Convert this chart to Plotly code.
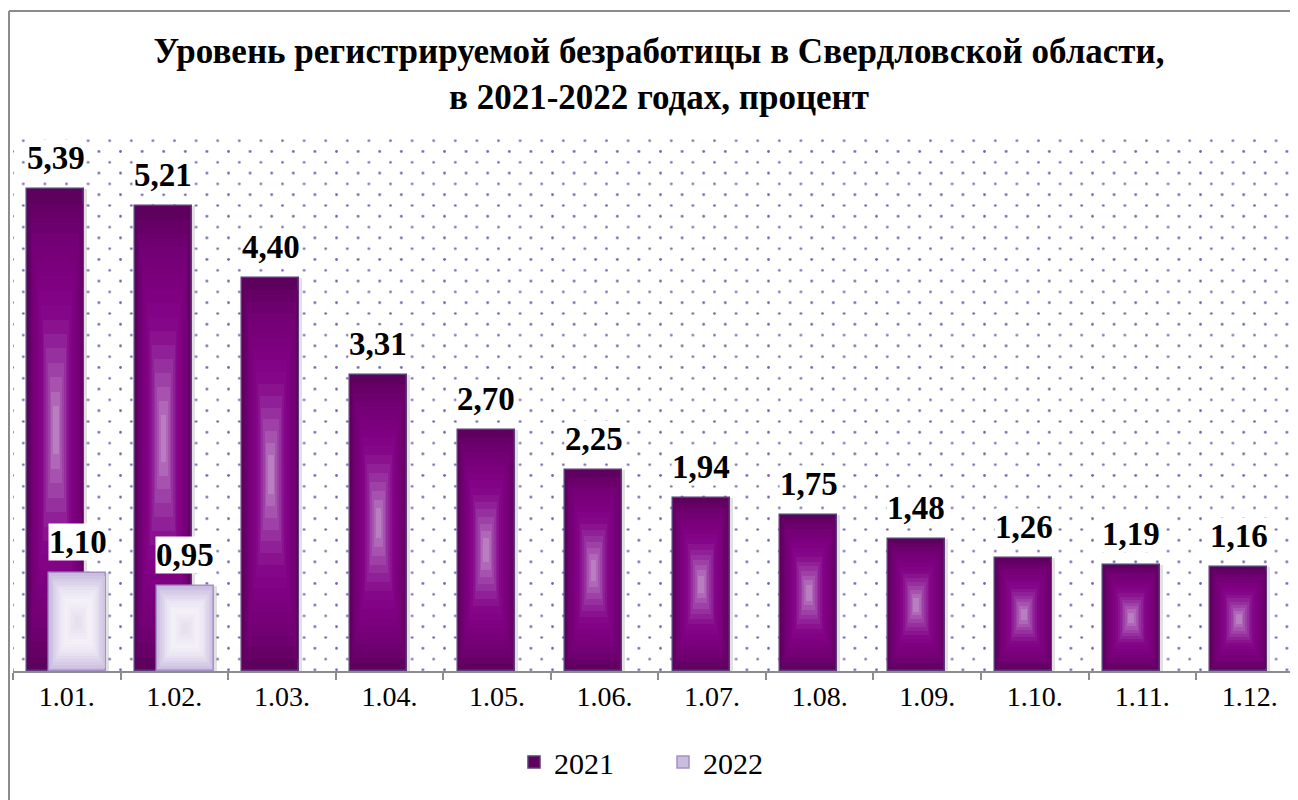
import base64
import plotly.graph_objects as go

# ---- data ----
months = ["1.01.", "1.02.", "1.03.", "1.04.", "1.05.", "1.06.",
          "1.07.", "1.08.", "1.09.", "1.10.", "1.11.", "1.12."]
rate_2021 = [5.39, 5.21, 4.40, 3.31, 2.70, 2.25, 1.94, 1.75, 1.48, 1.26, 1.19, 1.16]
rate_2022 = [1.10, 0.95]
series_names = ["2021", "2022"]
title_text = ("Уровень регистрируемой безработицы в Свердловской области,<br>"
              "в 2021-2022 годах, процент")

# ---- style / geometry (figure is drawn inside the page's 8px body margin) ----
FW, FH = 1290, 792
ML, MT, MB = 5, 127, 129
PW, PH = FW - ML, FH - MT - MB       # plot area size in px
CAT = 107.55                          # px per category
W = 0.53                              # bar width (category units)
OFF = 0.102                           # bar centre offset from category centre
FONT = "Liberation Serif, Times New Roman, serif"

stops_2021 = [(1.0, "#5e005e"), (0.84, "#720074"), (0.62, "#800082"),
              (0.5, "#86088a"), (0.36, "#942a9c"), (0.22, "#a652ae"),
              (0.1, "#b87ec0"), (0.0, "#c6a0ce")]
stops_2022 = [(1.0, "#cabddf"), (0.82, "#dcd3eb"), (0.62, "#ece8f4"),
              (0.45, "#f4f1f8"), (0.25, "#ede8f3"), (0.0, "#e2dbec")]


def hex2rgb(h):
    h = h.lstrip("#")
    return tuple(int(h[i:i + 2], 16) for i in (0, 2, 4))


def colour_at(stops, s):
    for (s0, c0), (s1, c1) in zip(stops, stops[1:]):
        if s1 <= s <= s0:
            t = (s0 - s) / (s0 - s1) if s0 != s1 else 0
            a, b = hex2rgb(c0), hex2rgb(c1)
            r = [round(a[i] + (b[i] - a[i]) * t) for i in range(3)]
            return "rgb(%d,%d,%d)" % tuple(r)
    return "rgb(%d,%d,%d)" % hex2rgb(stops[-1][1])


levels = [1.0 - i * 0.06 for i in range(16)]  # 1.0 .. 0.1

fig = go.Figure()


def add_series(values, centre, stops, outline, name):
    xs = months[:len(values)]
    # soft shadow
    fig.add_trace(go.Bar(
        x=xs, y=values, width=W, offset=centre - W / 2 + 0.028,
        marker=dict(color="rgba(90,90,90,0.18)", line=dict(width=0)),
        showlegend=False, hoverinfo="skip"))
    for k, s in enumerate(levels):
        fig.add_trace(go.Bar(
            x=xs,
            y=[v * s for v in values],
            base=[v * (1 - s) / 2 for v in values],
            width=W * s,
            offset=centre - W * s / 2,
            marker=dict(color=colour_at(stops, s),
                        line=dict(width=1.5 if k == 0 else 0, color=outline)),
            name=name, legendgroup=name, showlegend=(k == 0),
            hoverinfo="skip"))


add_series(rate_2021, -OFF, stops_2021, "#5a3c78", series_names[0])
add_series(rate_2022, OFF, stops_2022, "#a690c6", series_names[1])


def fmt(v):
    return ("%.2f" % v).replace(".", ",")


annotations = []
for vals, shift in ((rate_2021, -OFF), (rate_2022, OFF)):
    for i, v in enumerate(vals):
        annotations.append(dict(
            x=months[i], y=v, xref="x", yref="y", text="<b>%s</b>" % fmt(v),
            showarrow=False, yanchor="bottom", xanchor="center",
            xshift=shift * CAT, yshift=12,
            font=dict(family=FONT, size=33, color="#000000"),
            bgcolor="#ffffff", borderpad=0))

# dotted background pattern
svg = ("<svg xmlns='http://www.w3.org/2000/svg' width='%d' height='%d' viewBox='0 0 %d %d'>"
       "<defs><pattern id='p' x='4.9' y='0.3' width='21.6' height='21.6' patternUnits='userSpaceOnUse'>"
       "<circle cx='5.4' cy='5.4' r='1.35' fill='#7566a6'/>"
       "<circle cx='16.2' cy='16.2' r='1.35' fill='#7566a6'/>"
       "</pattern></defs><rect width='100%%' height='100%%' fill='url(#p)'/></svg>") % (PW, PH, PW, PH)
src = "data:image/svg+xml;base64," + base64.b64encode(svg.encode()).decode()


def px(xf):
    return (xf - ML) / PW


def py(yf):
    return (FH - MB - yf) / PH


fig.update_layout(
    width=FW, height=FH,
    margin=dict(l=ML, r=0, t=MT, b=MB),
    paper_bgcolor="#ffffff", plot_bgcolor="rgba(0,0,0,0)",
    barmode="overlay", bargap=0,
    title=dict(text="<b>%s</b>" % title_text, x=651 / FW, xanchor="center",
               xref="container", yref="container", y=1 - 55 / FH, yanchor="top",
               font=dict(family=FONT, size=35, color="#000000")),
    showlegend=True,
    legend=dict(orientation="h", x=px(506), xanchor="left",
                y=py(754), yanchor="middle",
                font=dict(family=FONT, size=30, color="#000000"),
                entrywidth=104, entrywidthmode="pixels",
                bgcolor="rgba(0,0,0,0)", traceorder="normal"),
    xaxis=dict(type="category", categoryorder="array", categoryarray=months,
               range=[-0.5, -0.5 + PW / CAT],
               showline=True, linecolor="#8c8c8c", linewidth=1.5,
               ticks="outside", tickson="boundaries", ticklen=7,
               tickcolor="#8c8c8c", tickwidth=1.5, showgrid=False,
               tickfont=dict(family=FONT, size=28, color="#000000"),
               fixedrange=True),
    yaxis=dict(range=[0, 6], visible=False, showgrid=False, fixedrange=True),
    annotations=annotations,
    images=[dict(source=src, xref="paper", yref="paper", x=0, y=1,
                 sizex=1, sizey=1, xanchor="left", yanchor="top",
                 sizing="stretch", layer="below")],
    shapes=[
        dict(type="line", xref="paper", yref="paper",
             x0=px(1), x1=px(1), y0=py(3), y1=py(FH + 20),
             line=dict(color="#8c8c8c", width=2)),
        dict(type="line", xref="paper", yref="paper",
             x0=px(1), x1=1.05, y0=py(3), y1=py(3),
             line=dict(color="#8c8c8c", width=2)),
    ],
)

fig.write_html("out.html")
